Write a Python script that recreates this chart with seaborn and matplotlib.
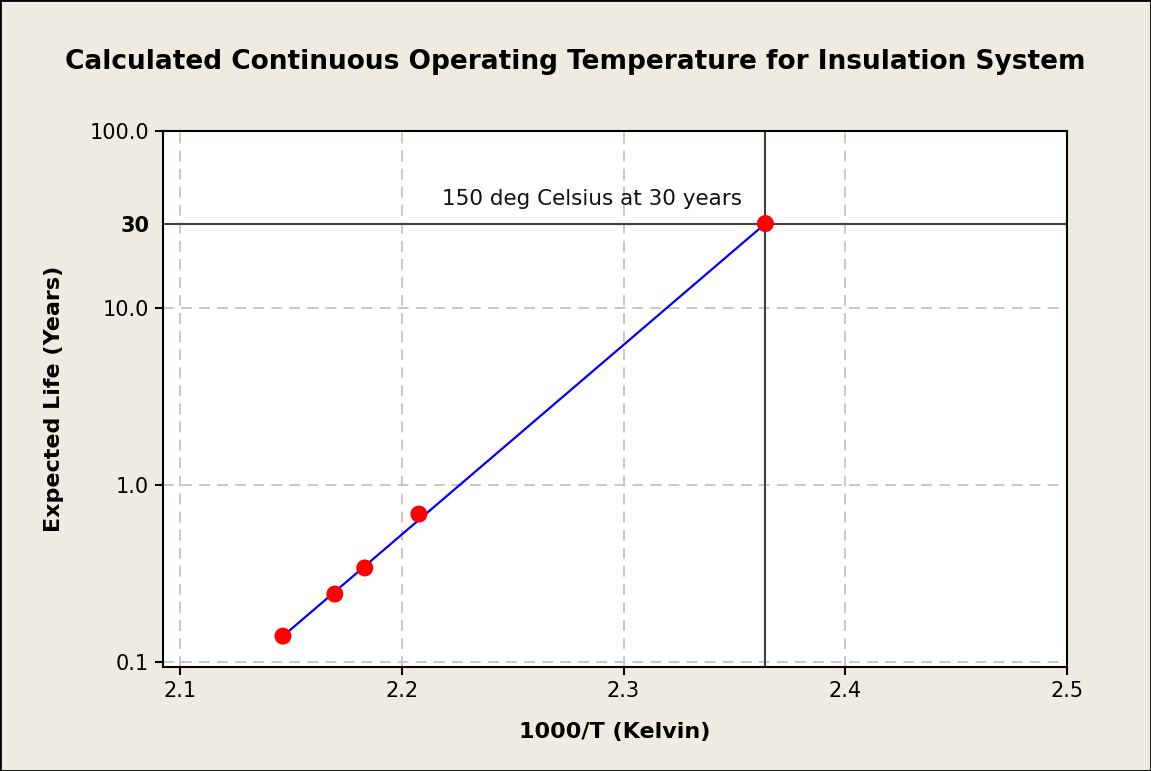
import matplotlib
matplotlib.use("Agg")
import matplotlib.pyplot as plt
import seaborn as sns
import pandas as pd
from matplotlib.patches import Rectangle

# Data
inv_temp = [2.1464, 2.1698, 2.1833, 2.2077, 2.364]
life_years = [0.140, 0.242, 0.340, 0.685, 30.0]
fit_x = [2.1464, 2.364]
fit_y = [0.140, 30.0]
x_ticks = [2.1, 2.2, 2.3, 2.4, 2.5]
x_tick_labels = ["2.1", "2.2", "2.3", "2.4", "2.5"]
y_ticks = [0.1, 1.0, 10.0, 100.0]
y_tick_labels = ["0.1", "1.0", "10.0", "100.0"]
target_life = 30
target_x = 2.364
annot = "150 deg Celsius at 30 years"

bg = "#EFEBE1"
sns.set_theme(style="white")
plt.rcParams['font.family'] = ['DejaVu Sans']
plt.rcParams['text.color'] = 'black'
plt.rcParams['axes.labelcolor'] = 'black'
plt.rcParams['xtick.color'] = 'black'
plt.rcParams['ytick.color'] = 'black'

fig = plt.figure(figsize=(11.51, 7.71), dpi=100, facecolor=bg)
ax = fig.add_axes([163/1151, 1-667/771, (1067-163)/1151, (667-131)/771])
ax.set_facecolor("white")

df_pts = pd.DataFrame({"x": inv_temp, "y": life_years})
df_fit = pd.DataFrame({"x": fit_x, "y": fit_y})

ax.set_yscale("log")
ax.set_xlim(2.0923, 2.5)
ax.set_ylim(0.0937, 100)

# grid
for xv in x_ticks:
    ax.axvline(xv, color="#C4C4C4", lw=1.3, ls=(0, (6, 4)), zorder=0)
for yv in y_ticks:
    ax.axhline(yv, color="#C4C4C4", lw=1.3, ls=(0, (6, 4)), zorder=0)

ax.axhline(target_life, color="#404040", lw=1.5, zorder=1)
ax.axvline(target_x, color="#404040", lw=1.5, zorder=1)

sns.lineplot(data=df_fit, x="x", y="y", ax=ax, color="#0000FF", lw=1.6, zorder=2)
sns.scatterplot(data=df_pts, x="x", y="y", ax=ax, color="#FF0000", s=150,
                edgecolor="none", zorder=3)

ax.text(2.2856, 41.3, annot, ha="center", va="center", fontsize=15.5, color="#111111")

ax.set_xticks(x_ticks)
ax.set_xticklabels(x_tick_labels, fontsize=15)
ax.set_yticks(y_ticks + [target_life])
ax.set_yticklabels(y_tick_labels + [str(target_life)], fontsize=15)
ax.yaxis.set_minor_locator(matplotlib.ticker.NullLocator())
ax.tick_params(axis="both", direction="out", length=6, width=1.5, color="black",
               left=True, bottom=True, pad=4)
ticks = ax.yaxis.get_major_ticks()
ticks[-1].tick1line.set_visible(False)
ticks[-1].label1.set_fontweight("bold")

for s in ax.spines.values():
    s.set_color("black")
    s.set_linewidth(1.5)

ax.set_xlabel("1000/T (Kelvin)", fontsize=16, fontweight="bold", labelpad=15)
ax.set_ylabel("Expected Life (Years)", fontsize=16, fontweight="bold", labelpad=18)

fig.text(0.5, 1-62/771, "Calculated Continuous Operating Temperature for Insulation System",
         ha="center", va="center", fontsize=19, fontweight="bold")

fig.patches.append(Rectangle((0, 0), 1, 1, transform=fig.transFigure, fill=False,
                             edgecolor="black", lw=2))

fig.savefig("out.png", dpi=100, facecolor=bg)
